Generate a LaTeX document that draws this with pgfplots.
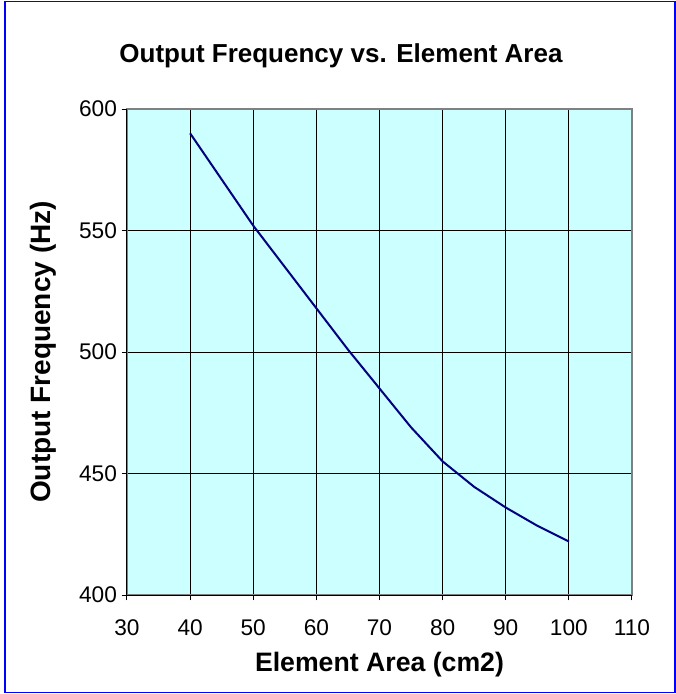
\documentclass[border=0pt]{standalone}
\usepackage{fontspec}
\setmainfont{Liberation Sans}
\usepackage{pgfplots}
\pgfplotsset{compat=1.18}
\definecolor{plotbg}{HTML}{CCFFFF}
\definecolor{navyline}{HTML}{000080}
\definecolor{frameblue}{HTML}{0000FF}

\begin{document}
\begin{tikzpicture}
\useasboundingbox (0pt,0pt) rectangle (507pt,520.5pt);
\draw[frameblue, line width=1.2pt] (3.75pt,1.1pt) rectangle (506.25pt,519.4pt);
\begin{axis}[
    at={(95.25pt,74.25pt)}, anchor=south west,
    scale only axis,
    width=378.75pt, height=364.5pt,
    xmin=30, xmax=110, ymin=400, ymax=600,
    xtick distance=10, ytick distance=50,
    xtick pos=bottom, ytick pos=left,
    tick align=outside,
    major tick length=4pt,
    tick style={black, line width=0.75pt},
    grid=major,
    major grid style={black, line width=0.75pt},
    axis line style={draw=gray, line width=1.5pt},
    axis background/.style={fill=plotbg},
    /pgf/number format/assume math mode=true,
    ticklabel style={font=\fontsize{17}{20}\selectfont},
    xticklabel style={anchor=base, yshift=-26pt},
    title={Output Frequency vs. Element Area},
    title style={at={(axis description cs:0.4238,1.0988)}, anchor=base, yshift=-7.5pt,
        font=\bfseries\fontsize{19.5}{23}\selectfont},
    xlabel={Element Area (cm2)},
    ylabel={Output Frequency (Hz)},
    xlabel style={at={(axis description cs:0.5,-0.1584)}, anchor=base,
        font=\bfseries\fontsize{20}{24}\selectfont},
    ylabel style={at={(axis description cs:-0.152,0.5)}, anchor=base,
        font=\bfseries\fontsize{21}{25}\selectfont},
    after end axis/.code={
        \draw[black, line width=0.75pt] (rel axis cs:0,1) -- (rel axis cs:0,0) -- (rel axis cs:1,0);
    },
]
\addplot[navyline, line width=1.5pt] coordinates {
    (40, 590) (45, 571) (50, 552) (55, 535) (60, 518)
    (65, 501) (70, 485) (75, 469) (80, 455) (85, 444.5)
    (90, 436) (95, 428.5) (100, 422)
};
\end{axis}
\end{tikzpicture}
\end{document}
